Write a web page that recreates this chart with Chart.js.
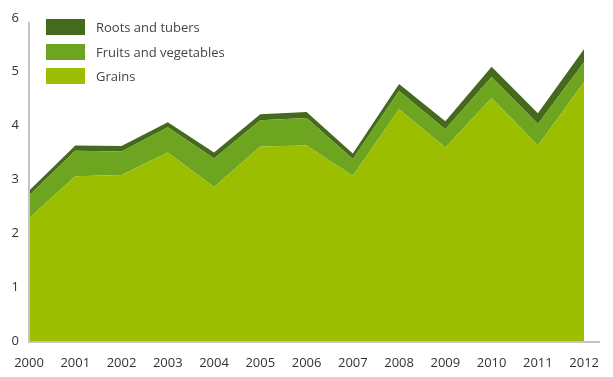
<!DOCTYPE html>
<html>
<head>
<meta charset="utf-8">
<script src="https://cdn.jsdelivr.net/npm/chart.js@4"></script>
<style>
  html, body { margin: 0; padding: 0; background: #fff; }
  #wrap { position: relative; width: 613px; height: 377px; }
  #legend {
    position: absolute; left: 46px; top: 15px;
    font-family: "Open Sans", sans-serif; font-size: 13px; color: #444;
  }
  #legend div { display: flex; align-items: center; height: 24.5px; }
  #legend span.box { display: inline-block; width: 39px; height: 16px; margin-right: 11px; }
</style>
</head>
<body>
<div id="wrap">
  <canvas id="chart" width="613" height="377"></canvas>
  <div id="legend"></div>
</div>
<script>
// Food categories, values
const years = ['2000', '2001', '2002', '2003', '2004', '2005', '2006', '2007', '2008', '2009', '2010', '2011', '2012'];
const grains = [2.28, 3.06, 3.08, 3.50, 2.86, 3.61, 3.63, 3.07, 4.30, 3.59, 4.51, 3.63, 4.81];
const fruitsVeg = [0.42, 0.47, 0.44, 0.47, 0.53, 0.49, 0.51, 0.31, 0.34, 0.34, 0.39, 0.40, 0.37];
const rootsTubers = [0.09, 0.10, 0.10, 0.09, 0.11, 0.11, 0.11, 0.10, 0.13, 0.15, 0.19, 0.20, 0.24];
const yTicks = [0, 1, 2, 3, 4, 5, 6];

const colors = {
    roots: '#456a1d',
    fruits: '#6da521',
    grains: '#9bbf00'
};

// Legend (top-left, inside plot)
const legendItems = [
    { label: 'Roots and tubers', color: colors.roots },
    { label: 'Fruits and vegetables', color: colors.fruits },
    { label: 'Grains', color: colors.grains }
];
const legendEl = document.getElementById('legend');
legendItems.forEach(item => {
    const row = document.createElement('div');
    row.innerHTML = `<span class="box" style="background:${item.color}"></span>${item.label}`;
    legendEl.appendChild(row);
});

// Draw the axis lines by hand so the x-axis can run past the last point
const axisLines = {
    id: 'axisLines',
    afterDatasetsDraw(chart) {
        const { ctx, chartArea } = chart;
        ctx.save();
        ctx.strokeStyle = '#c4c4c4';
        ctx.lineWidth = 2;
        ctx.beginPath();
        ctx.moveTo(chartArea.left, chartArea.top + 4);
        ctx.lineTo(chartArea.left, chartArea.bottom + 1);
        ctx.lineTo(chartArea.right + 16, chartArea.bottom + 1);
        ctx.stroke();
        ctx.restore();
    }
};

const font = { family: '"Open Sans", sans-serif', size: 13 };

new Chart(document.getElementById('chart').getContext('2d'), {
    type: 'line',
    data: {
        labels: years,
        datasets: [
            { label: 'Grains', data: grains, backgroundColor: colors.grains, fill: 'origin' },
            { label: 'Fruits and vegetables', data: fruitsVeg, backgroundColor: colors.fruits, fill: '-1' },
            { label: 'Roots and tubers', data: rootsTubers, backgroundColor: colors.roots, fill: '-1' }
        ]
    },
    options: {
        responsive: false,
        animation: false,
        layout: { padding: { top: 13, right: 19, left: 0, bottom: 0 } },
        elements: {
            line: { borderWidth: 0, tension: 0 },
            point: { radius: 0 }
        },
        plugins: {
            legend: { display: false },
            tooltip: { enabled: false }
        },
        scales: {
            x: {
                grid: { display: false, drawTicks: false },
                border: { display: false },
                ticks: { color: '#333', font: font, padding: 14, maxRotation: 0, autoSkip: false },
                afterFit(scale) { scale.height = 36; }
            },
            y: {
                stacked: true,
                min: 0,
                max: 6,
                grid: { display: false, drawTicks: false },
                border: { display: false },
                afterBuildTicks(scale) { scale.ticks = yTicks.map(v => ({ value: v })); },
                ticks: { color: '#333', font: font, padding: 10 },
                afterFit(scale) { scale.width = 29; }
            }
        }
    },
    plugins: [axisLines]
});
</script>
</body>
</html>
